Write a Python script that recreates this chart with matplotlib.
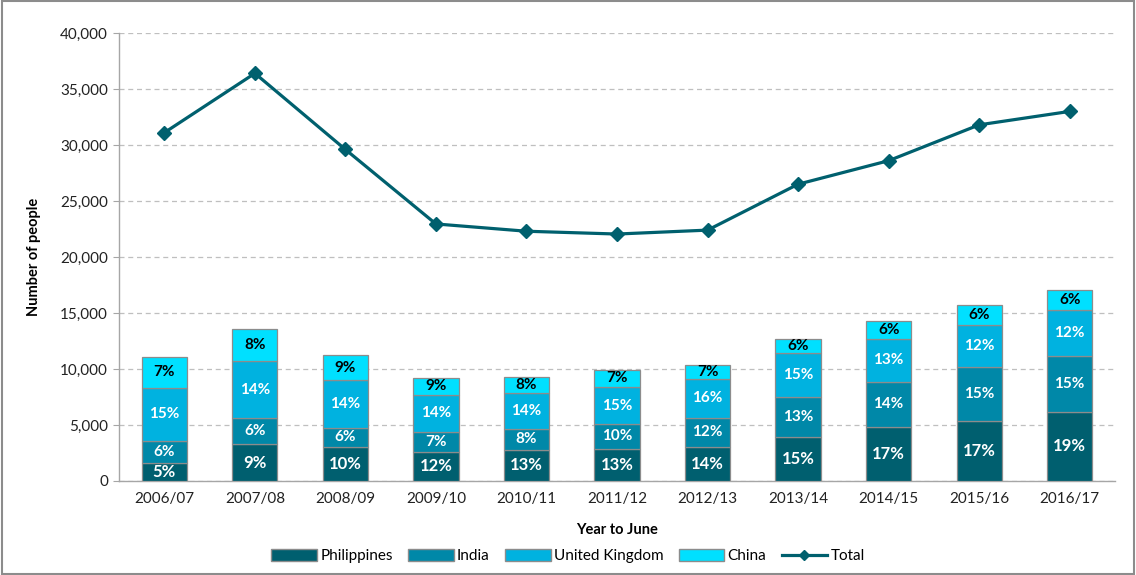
import numpy as np
import matplotlib
matplotlib.use('Agg')
import matplotlib.pyplot as plt
from matplotlib.lines import Line2D
from matplotlib.patches import Patch

plt.rcParams['font.family'] = ['Lato', 'DejaVu Sans']

years = ['2006/07', '2007/08', '2008/09', '2009/10', '2010/11', '2011/12',
         '2012/13', '2013/14', '2014/15', '2015/16', '2016/17']

# stacked counts
philippines = [1640, 3280, 3060, 2620, 2800, 2890, 3070, 3960, 4850, 5380, 6190]
india = [1960, 2320, 1700, 1780, 1870, 2170, 2580, 3570, 4020, 4770, 4940]
uk = [4730, 5110, 4260, 3280, 3160, 3360, 3490, 3870, 3840, 3750, 4110]
china = [2770, 2890, 2200, 1540, 1480, 1490, 1220, 1310, 1610, 1810, 1810]

total = [31100, 36400, 29600, 22950, 22300, 22050, 22400, 26500, 28600, 31800, 33000]

# share-of-total labels shown in the segments
pct_phil = [5, 9, 10, 12, 13, 13, 14, 15, 17, 17, 19]
pct_india = [6, 6, 6, 7, 8, 10, 12, 13, 14, 15, 15]
pct_uk = [15, 14, 14, 14, 14, 15, 16, 15, 13, 12, 12]
pct_china = [7, 8, 9, 9, 8, 7, 7, 6, 6, 6, 6]

c_phil, c_india, c_uk, c_china = '#005F6F', '#0088A8', '#00B2E0', '#00E0FF'
c_line = '#00606E'
edge = '#8C8C8C'

fig = plt.figure(figsize=(11.36, 5.75), dpi=100)
ax = fig.add_axes([0.1048, 0.1635, 0.8767, 0.7791])

x = np.arange(len(years))
w = 0.5
bottom = np.zeros(len(years))
series = [(philippines, c_phil, pct_phil, 'white', 12),
          (india, c_india, pct_india, 'white', 11),
          (uk, c_uk, pct_uk, 'white', 11),
          (china, c_china, pct_china, 'black', 11)]
for vals, col, pcts, tcol, fs in series:
    bars = ax.bar(x, vals, w, bottom=bottom, color=col, edgecolor=edge,
                  linewidth=0.9, zorder=3)
    ax.bar_label(bars, labels=[f'{p}%' for p in pcts], label_type='center',
                 color=tcol, fontsize=fs, fontweight='bold')
    bottom += np.array(vals)

ax.plot(x, total, color=c_line, linewidth=2.3, marker='D', markersize=7.5,
        zorder=4)

ax.set_xlim(-0.5, len(years) - 0.5)
ax.set_ylim(0, 40000)
ax.set_yticks(np.arange(0, 40001, 5000))
ax.set_yticklabels([f'{v:,}' for v in range(0, 40001, 5000)], fontsize=11,
                   color='#222222')
ax.set_xticks(x)
ax.set_xticklabels(years, fontsize=11, color='#222222')
ax.tick_params(axis='x', length=0, pad=8)
ax.tick_params(axis='y', length=4, color='#A6A6A6', pad=4)

for s in ['top', 'right']:
    ax.spines[s].set_visible(False)
for s in ['left', 'bottom']:
    ax.spines[s].set_color('#A6A6A6')
    ax.spines[s].set_linewidth(1.0)

ax.yaxis.grid(True, linestyle=(0, (4, 3)), color='#BFBFBF', linewidth=0.9,
              zorder=0)
ax.set_axisbelow(True)

ax.set_ylabel('Number of people', fontsize=10.5, fontweight='bold', labelpad=14)
ax.set_xlabel('Year to June', fontsize=10.5, fontweight='bold', labelpad=12)

handles = [Patch(facecolor=c_phil, edgecolor=edge, label='Philippines'),
           Patch(facecolor=c_india, edgecolor=edge, label='India'),
           Patch(facecolor=c_uk, edgecolor=edge, label='United Kingdom'),
           Patch(facecolor=c_china, edgecolor=edge, label='China'),
           Line2D([], [], color=c_line, linewidth=2.3, marker='D',
                  markersize=5, label='Total')]
fig.legend(handles=handles, loc='center', bbox_to_anchor=(0.5, 0.033),
           ncol=5, frameon=False, fontsize=11, handlelength=3.0,
           handleheight=0.8, handletextpad=0.2, columnspacing=1.0)

fig.patches.append(plt.Rectangle((0.002, 0.002), 0.996, 0.996,
                                 transform=fig.transFigure, fill=False,
                                 edgecolor='#8C8C8C', linewidth=1.5))

plt.savefig('out.png', dpi=100)
